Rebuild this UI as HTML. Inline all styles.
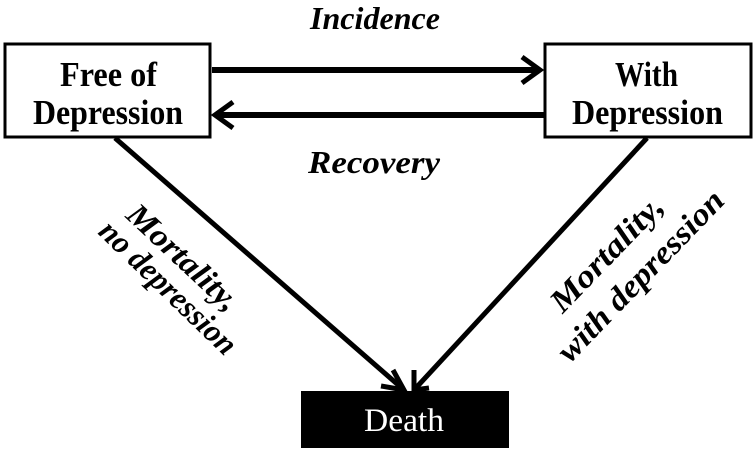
<!DOCTYPE html>
<html><head><style>body{margin:0;background:#fff}</style></head><body>
<svg width="755" height="453" viewBox="0 0 755 453" xmlns="http://www.w3.org/2000/svg" font-family="Liberation Serif, serif">
<rect x="5" y="44" width="205" height="93" fill="#fff" stroke="#000" stroke-width="3"/>
<rect x="545" y="44" width="206" height="93" fill="#fff" stroke="#000" stroke-width="3"/>
<rect x="301" y="391" width="208" height="57" fill="#000"/>
<g font-size="35" font-weight="bold">
<text x="60" y="86" textLength="97" lengthAdjust="spacingAndGlyphs">Free of</text>
<text x="33" y="124" textLength="150" lengthAdjust="spacingAndGlyphs">Depression</text>
<text x="615" y="86" textLength="63" lengthAdjust="spacingAndGlyphs">With</text>
<text x="572" y="124" textLength="151" lengthAdjust="spacingAndGlyphs">Depression</text>
</g>
<text x="364" y="431" font-size="33" fill="#fff" textLength="80" lengthAdjust="spacingAndGlyphs">Death</text>
<g stroke="#000" stroke-width="6" fill="none">
<line x1="212" y1="70" x2="540" y2="70"/>
<polyline points="522,57 540,70 522,83" stroke-width="5"/>
<line x1="545" y1="115" x2="217" y2="115"/>
<polyline points="233,102 215,115 233,128" stroke-width="5"/>
<line x1="115" y1="138" x2="404" y2="390" stroke-width="5"/>
<line x1="647" y1="138" x2="414" y2="390" stroke-width="5"/>
<polyline points="381,386 404,390 393,370" stroke-width="5"/>
<polyline points="414,370 414,390 429,388" stroke-width="5"/>
</g>
<g font-weight="bold" font-style="italic" font-size="32">
<text x="310" y="29" textLength="130" lengthAdjust="spacingAndGlyphs">Incidence</text>
<text x="308" y="173" textLength="132" lengthAdjust="spacingAndGlyphs">Recovery</text>
</g>
<g font-weight="bold" font-style="italic" font-size="32" text-anchor="middle">
<text transform="translate(176,265) rotate(43)" textLength="141" lengthAdjust="spacingAndGlyphs">Mortality,</text>
<text transform="translate(161,295) rotate(44)" textLength="178" lengthAdjust="spacingAndGlyphs">no depression</text>
<text transform="translate(614,261) rotate(-46)" textLength="148" lengthAdjust="spacingAndGlyphs">Mortality,</text>
<text transform="translate(648,283) rotate(-46)" textLength="225" lengthAdjust="spacingAndGlyphs">with depression</text>
</g>
</svg>
</body></html>
